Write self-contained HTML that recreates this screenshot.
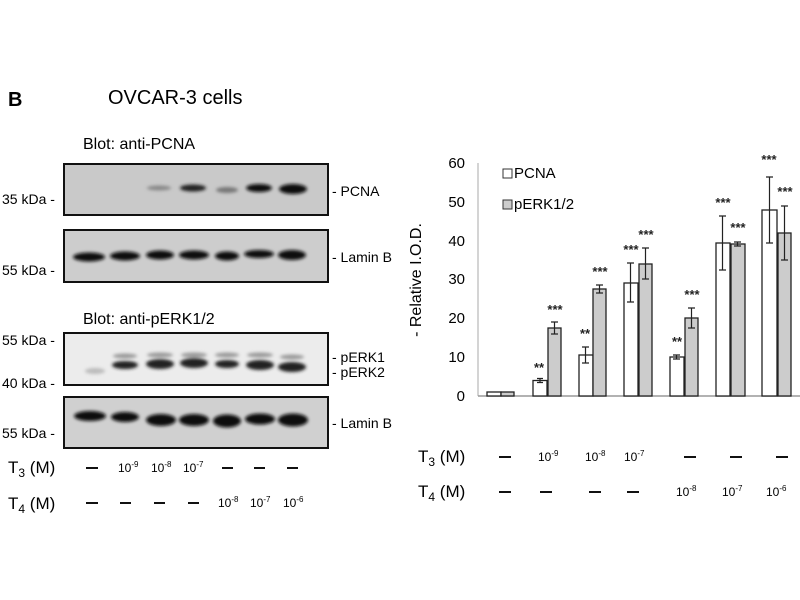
<!DOCTYPE html>
<html><head><meta charset="utf-8"><style>body{margin:0;background:#fff}svg{display:block}</style></head><body>
<svg width="800" height="600" viewBox="0 0 800 600" xmlns="http://www.w3.org/2000/svg" font-family="Liberation Sans, Arial, sans-serif">
<defs><filter id="b"><feGaussianBlur stdDeviation="1.6"/></filter></defs>
<rect width="800" height="600" fill="#fff"/>
<text x="8" y="106" font-size="20" font-weight="bold">B</text>
<text x="108" y="104" font-size="20">OVCAR-3 cells</text>
<text x="83" y="149" font-size="16">Blot: anti-PCNA</text>
<text x="83" y="324" font-size="16">Blot: anti-pERK1/2</text>
<rect x="64" y="164" width="264" height="51" fill="#c9c9c9" stroke="#111" stroke-width="2"/>
<rect x="64" y="230" width="264" height="52" fill="#cdcdcd" stroke="#111" stroke-width="2"/>
<rect x="64" y="333" width="264" height="52" fill="#ececec" stroke="#111" stroke-width="2"/>
<rect x="64" y="397" width="264" height="51" fill="#d0d0d0" stroke="#111" stroke-width="2"/>
<g filter="url(#b)">
<ellipse cx="159" cy="188" rx="12" ry="2.5" fill="#888"/>
<ellipse cx="193" cy="188" rx="13" ry="3.5" fill="#222"/>
<ellipse cx="227" cy="190" rx="11" ry="3" fill="#777"/>
<ellipse cx="259" cy="188" rx="13" ry="4" fill="#111"/>
<ellipse cx="293" cy="189" rx="14" ry="5" fill="#111"/>
<g fill="#111"><ellipse cx="89" cy="257" rx="16" ry="4.5"/><ellipse cx="125" cy="256" rx="15" ry="4.5"/><ellipse cx="160" cy="255" rx="14" ry="4.5"/><ellipse cx="194" cy="255" rx="15" ry="4.5"/><ellipse cx="227" cy="256" rx="12" ry="4.5"/><ellipse cx="259" cy="254" rx="15" ry="4"/><ellipse cx="292" cy="255" rx="14" ry="5"/></g>
<ellipse cx="95" cy="371" rx="10" ry="3" fill="#bbb"/>
<g fill="#999"><ellipse cx="125" cy="356" rx="12" ry="2.5"/><ellipse cx="160" cy="355" rx="13" ry="2.5"/><ellipse cx="194" cy="355" rx="13" ry="2.5"/><ellipse cx="227" cy="355" rx="12" ry="2.5"/><ellipse cx="260" cy="355" rx="13" ry="2.5"/><ellipse cx="292" cy="357" rx="12" ry="2.5"/></g>
<g fill="#222"><ellipse cx="125" cy="365" rx="13" ry="4"/><ellipse cx="160" cy="364" rx="14" ry="5"/><ellipse cx="194" cy="363" rx="14" ry="5"/><ellipse cx="227" cy="364" rx="12" ry="4"/><ellipse cx="260" cy="365" rx="14" ry="5"/><ellipse cx="292" cy="367" rx="14" ry="5"/></g>
<g fill="#0a0a0a"><ellipse cx="90" cy="416" rx="16" ry="5"/><ellipse cx="125" cy="417" rx="14" ry="5"/><ellipse cx="161" cy="420" rx="15" ry="6"/><ellipse cx="194" cy="420" rx="15" ry="6"/><ellipse cx="227" cy="421" rx="14" ry="6.5"/><ellipse cx="260" cy="419" rx="15" ry="5.5"/><ellipse cx="293" cy="420" rx="15" ry="6.5"/></g>
</g>
<g font-size="14">
<text x="2" y="204">35 kDa -</text>
<text x="2" y="275">55 kDa -</text>
<text x="2" y="345">55 kDa -</text>
<text x="2" y="388">40 kDa -</text>
<text x="2" y="438">55 kDa -</text>
<text x="332" y="196">- PCNA</text>
<text x="332" y="262">- Lamin B</text>
<text x="332" y="362">- pERK1</text>
<text x="332" y="377">- pERK2</text>
<text x="332" y="428">- Lamin B</text>
</g>
<g font-size="17"><text x="8" y="473">T<tspan font-size="12" dy="4">3</tspan><tspan dy="-4"> (M)</tspan></text>
<text x="8" y="509">T<tspan font-size="12" dy="4">4</tspan><tspan dy="-4"> (M)</tspan></text>
<text x="418" y="462">T<tspan font-size="12" dy="4">3</tspan><tspan dy="-4"> (M)</tspan></text>
<text x="418" y="497">T<tspan font-size="12" dy="4">4</tspan><tspan dy="-4"> (M)</tspan></text></g>
<g stroke="#111" stroke-width="2">
<line x1="86" y1="468" x2="98" y2="468"/><line x1="222" y1="468" x2="233" y2="468"/><line x1="254" y1="468" x2="265" y2="468"/><line x1="287" y1="468" x2="298" y2="468"/>
<line x1="86" y1="503" x2="98" y2="503"/><line x1="120" y1="503" x2="131" y2="503"/><line x1="154" y1="503" x2="165" y2="503"/><line x1="188" y1="503" x2="199" y2="503"/>
<line x1="499" y1="457" x2="511" y2="457"/><line x1="684" y1="457" x2="696" y2="457"/><line x1="730" y1="457" x2="742" y2="457"/><line x1="776" y1="457" x2="788" y2="457"/>
<line x1="499" y1="492" x2="511" y2="492"/><line x1="540" y1="492" x2="552" y2="492"/><line x1="589" y1="492" x2="601" y2="492"/><line x1="627" y1="492" x2="639" y2="492"/>
</g>
<g font-size="12">
<text x="118" y="472">10<tspan font-size="8" dy="-5">-9</tspan></text>
<text x="151" y="472">10<tspan font-size="8" dy="-5">-8</tspan></text>
<text x="183" y="472">10<tspan font-size="8" dy="-5">-7</tspan></text>
<text x="218" y="507">10<tspan font-size="8" dy="-5">-8</tspan></text>
<text x="250" y="507">10<tspan font-size="8" dy="-5">-7</tspan></text>
<text x="283" y="507">10<tspan font-size="8" dy="-5">-6</tspan></text>
<text x="538" y="461">10<tspan font-size="8" dy="-5">-9</tspan></text>
<text x="585" y="461">10<tspan font-size="8" dy="-5">-8</tspan></text>
<text x="624" y="461">10<tspan font-size="8" dy="-5">-7</tspan></text>
<text x="676" y="496">10<tspan font-size="8" dy="-5">-8</tspan></text>
<text x="722" y="496">10<tspan font-size="8" dy="-5">-7</tspan></text>
<text x="766" y="496">10<tspan font-size="8" dy="-5">-6</tspan></text>
</g>
<line x1="478" y1="163" x2="478" y2="396" stroke="#aaa" stroke-width="1"/>
<line x1="478" y1="396" x2="800" y2="396" stroke="#999" stroke-width="1.5"/>
<g font-size="15" text-anchor="end">
<text x="465" y="401">0</text><text x="465" y="362">10</text><text x="465" y="323">20</text><text x="465" y="284">30</text><text x="465" y="246">40</text><text x="465" y="207">50</text><text x="465" y="168">60</text>
</g>
<text transform="translate(421,280) rotate(-90)" font-size="16" text-anchor="middle">- Relative I.O.D.</text>
<rect x="503" y="169" width="9" height="9" fill="#fff" stroke="#333"/><text x="514" y="178" font-size="15">PCNA</text>
<rect x="503" y="200" width="9" height="9" fill="#ccc" stroke="#333"/><text x="514" y="209" font-size="15">pERK1/2</text>
<g stroke="#222" stroke-width="1.3">
<rect x="487" y="392" width="14" height="4" fill="#fff"/><rect x="501" y="392" width="13" height="4" fill="#ccc"/>
<rect x="533" y="380.5" width="14" height="15.5" fill="#fff"/><rect x="548" y="328" width="13" height="68" fill="#ccc"/>
<rect x="579" y="355" width="14" height="41" fill="#fff"/><rect x="593" y="289" width="13" height="107" fill="#ccc"/>
<rect x="624" y="283" width="14" height="113" fill="#fff"/><rect x="639" y="264" width="13" height="132" fill="#ccc"/>
<rect x="670" y="357" width="14" height="39" fill="#fff"/><rect x="685" y="318" width="13" height="78" fill="#ccc"/>
<rect x="716" y="243" width="14" height="153" fill="#fff"/><rect x="731" y="244" width="14" height="152" fill="#ccc"/>
<rect x="762" y="210" width="15" height="186" fill="#fff"/><rect x="778" y="233" width="13" height="163" fill="#ccc"/>
</g>
<g stroke="#222" stroke-width="1.2" fill="none">
<path d="M537 378.5h6M540 378.5v4M537 382.5h6"/>
<path d="M551 322h7M554.5 322v12M551 334h7"/>
<path d="M582 347h7M585.5 347v16M582 363h7"/>
<path d="M596 285h7M599.5 285v8M596 293h7"/>
<path d="M627 263h7M630.5 263v39M627 302h7"/>
<path d="M642 248h7M645.5 248v31M642 279h7"/>
<path d="M673 355h7M676.5 355v4M673 359h7"/>
<path d="M688 308h7M691.5 308v20M688 328h7"/>
<path d="M719 216h7M722.5 216v54M719 270h7"/>
<path d="M734 242h7M737.5 242v4M734 246h7"/>
<path d="M766 177h7M769.5 177v66M766 243h7"/>
<path d="M781 206h7M784.5 206v54M781 260h7"/>
</g>
<g font-size="13" font-weight="bold" text-anchor="middle" fill="#222">
<text x="539" y="372">**</text><text x="555" y="314">***</text>
<text x="585" y="338">**</text><text x="600" y="276">***</text>
<text x="631" y="254">***</text><text x="646" y="239">***</text>
<text x="677" y="346">**</text><text x="692" y="299">***</text>
<text x="723" y="207">***</text><text x="738" y="232">***</text>
<text x="769" y="164">***</text><text x="785" y="196">***</text>
</g>
</svg>
</body></html>
